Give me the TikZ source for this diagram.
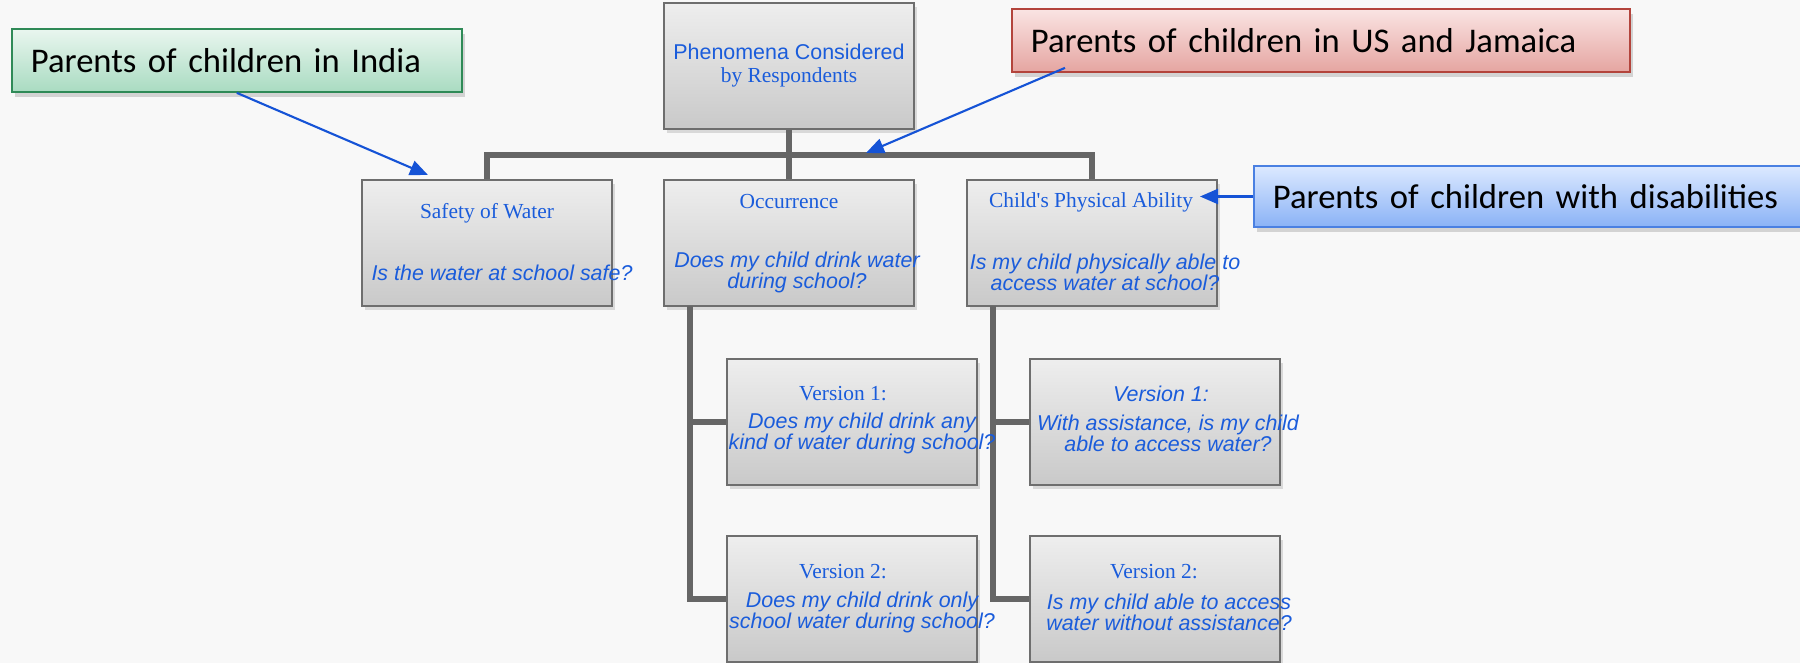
\documentclass[tikz,border=0pt]{standalone}
\usepackage{fontspec}
\setmainfont{Liberation Serif}
\setsansfont{Liberation Sans}
\newfontfamily\calloutfont{Carlito}
\usetikzlibrary{arrows.meta,positioning,shadows}
\definecolor{pagebg}{HTML}{F8F8F8}
\definecolor{boxtop}{HTML}{EEEEEE}
\definecolor{boxbot}{HTML}{C9C9C9}
\definecolor{boxline}{HTML}{6E6E6E}
\definecolor{linkgray}{HTML}{666666}
\definecolor{qblue}{HTML}{1A5CDB}
\definecolor{arrowblue}{HTML}{1553D6}
\definecolor{indiatop}{HTML}{E9F6EF}
\definecolor{indiabot}{HTML}{A9DBC1}
\definecolor{indialine}{HTML}{2F8A57}
\definecolor{ustop}{HTML}{FAE4E3}
\definecolor{usbot}{HTML}{E5A5A1}
\definecolor{usline}{HTML}{B3443C}
\definecolor{distop}{HTML}{DCE9FF}
\definecolor{disbot}{HTML}{8AB2F6}
\definecolor{disline}{HTML}{4A80E2}

\begin{document}
\begin{tikzpicture}[x=0.02cm, y=-0.02cm,
  box/.style={draw=boxline, line width=0.8pt, top color=boxtop, bottom color=boxbot,
    minimum width=5cm, minimum height=2.52cm, inner sep=0pt,
    drop shadow={shadow xshift=1.5pt, shadow yshift=-2.5pt, opacity=0.25}},
  title/.style={text=qblue, font=\fontsize{12.2}{13}\selectfont, align=center, inner sep=0pt},
  quest/.style={text=qblue, font=\fontsize{12.2}{11.9}\selectfont\sffamily\itshape, align=center, inner sep=0pt},
  callout/.style={line width=1pt, anchor=west, align=left, inner xsep=0.38cm,
    minimum height=1.26cm, font=\fontsize{19.7}{24}\selectfont\calloutfont,
    drop shadow={shadow xshift=2pt, shadow yshift=-3pt, opacity=0.3}},
  conn/.style={draw=linkgray, line width=3.4pt},
  arr/.style={-{Triangle[length=0.36cm, width=0.3cm]}, arrowblue, line width=1.2pt}
]
  \fill[pagebg] (0,0) rectangle (1800,663);
  \useasboundingbox (0,0) rectangle (1800,663);

  % boxes
  \node[box] (top) at (789,66) {};
  \node[box] (safety) at (487,243) {};
  \node[box] (occur) at (789,243) {};
  \node[box] (ability) at (1092,243) {};
  \node[box] (occv1) at (852,422) {};
  \node[box] (occv2) at (852,599) {};
  \node[box] (abv1) at (1155,422) {};
  \node[box] (abv2) at (1155,599) {};

  % tree lines
  \coordinate (bar) at (789,155);
  \draw[conn] (safety.north) |- (bar) -| (ability.north);
  \draw[conn] (top.south) -- (occur.north);
  \coordinate (occtrunk) at (690,306);
  \draw[conn] (occtrunk) |- (occv2.west);
  \draw[conn] (occtrunk |- occv1.west) -- (occv1.west);
  \coordinate (abtrunk) at (993,306);
  \draw[conn] (abtrunk) |- (abv2.west);
  \draw[conn] (abtrunk |- abv1.west) -- (abv1.west);

  % texts
  \node[title] (top-t) at (789,65.5) {{\sffamily Phenomena Considered}\\by Respondents};
  \node[title] (safety-t) at (487,213) {Safety of Water};
  \node[quest] (safety-q) at (502,273) {Is the water at school safe?};
  \node[title] (occur-t) at (789,202) {Occurrence};
  \node[quest] (occur-q) at (797,272) {Does my child drink water\\during school?};
  \node[title] (ability-t) at (1091,202) {Child\textquotesingle s Physical Ability};
  \node[quest] (ability-q) at (1105,272) {Is my child physically able to\\access water at school?};
  \node[title] (occv1-t) at (843,394) {Version 1:};
  \node[quest] (occv1-q) at (862,433) {Does my child drink any\\kind of water during school?};
  \node[quest] (abv1-t) at (1161,394) {Version 1:};
  \node[quest] (abv1-q) at (1168,433) {With assistance, is my child\\able to access water?};
  \node[title] (occv2-t) at (843,572) {Version 2:};
  \node[quest] (occv2-q) at (862,612) {Does my child drink only\\school water during school?};
  \node[title] (abv2-t) at (1154,572) {Version 2:};
  \node[quest] (abv2-q) at (1169,612) {Is my child able to access\\water without assistance?};

  % callouts
  \node[callout, draw=indialine, top color=indiatop, bottom color=indiabot, text width=8.24cm]
    (india) at (11,60.5) {Parents of children in India};
  \node[callout, draw=usline, top color=ustop, bottom color=usbot, text width=11.6cm]
    (usjam) at (1011,40.5) {Parents of children in US and Jamaica};
  \node[callout, draw=disline, top color=distop, bottom color=disbot, text width=10.6cm, minimum height=1.22cm]
    (disab) at (1253,196.5) {Parents of children with disabilities};

  % arrows
  \coordinate (india-tip) at (428,175);
  \draw[arr] (india.south) -- (india-tip);
  \coordinate (us-tip) at (866,153);
  \draw[arr] ([xshift=1.08cm,yshift=0.1cm]usjam.south west) -- (us-tip);
  \coordinate (dis-tip) at (1200,196.5);
  \draw[arr] (disab.west) -- (dis-tip);
\end{tikzpicture}
\end{document}
